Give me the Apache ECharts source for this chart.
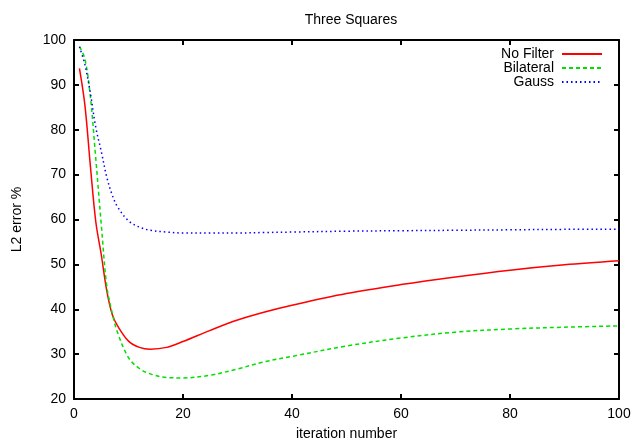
<!DOCTYPE html>
<html>
<head>
<meta charset="utf-8">
<script src="https://cdn.jsdelivr.net/npm/echarts@6/dist/echarts.min.js"></script>
<style>
html,body{margin:0;padding:0;background:#fff;}
#chart{width:635px;height:446px;}
</style>
</head>
<body>
<div id="chart"></div>
<script>
var iters = [1, 2, 3, 4, 5, 6, 7, 8, 10, 12, 14, 17, 20, 25, 30, 35, 40, 50, 60, 70, 80, 90, 100];
// L2 error % per filter
var noFilter  = [93.7, 85.5, 72.0, 59.5, 52.2, 44.2, 38.9, 36.3, 32.9, 31.5, 31.1, 31.5, 32.8, 35.3, 37.6, 39.4, 40.9, 43.5, 45.5, 47.2, 48.7, 49.9, 50.8];
var bilateral = [98.5, 95.8, 87.4, 73.5, 59.0, 45.3, 39.2, 34.8, 29.2, 26.8, 25.6, 24.8, 24.7, 25.3, 26.7, 28.3, 29.5, 31.8, 33.6, 34.9, 35.6, 36.0, 36.3];
var gauss     = [98.5, 94.5, 88.2, 80.5, 75.2, 69.5, 65.5, 62.8, 59.7, 58.3, 57.6, 57.2, 57.0, 57.0, 57.0, 57.1, 57.2, 57.4, 57.5, 57.6, 57.7, 57.8, 57.8];
var seriesNames = ['No Filter', 'Bilateral', 'Gauss'];

function pairs(arr) {
	return iters.map(function(x, i) { return [x, arr[i]]; });
}

var font = 'Liberation Sans, Arial, sans-serif';
//坐标轴公共样式
function axisBase(pos, isX, showLabel) {
	return {
		type: 'value',
		position: pos,
		min: isX ? 0 : 20,
		max: 100,
		interval: isX ? 20 : 10,
		axisLine: { show: true, onZero: false, lineStyle: { color: '#000', width: 2 } },
		axisTick: { show: true, inside: true, length: 5, lineStyle: { color: '#000', width: 2 } },
		splitLine: { show: false },
		axisLabel: { show: showLabel, color: '#000', fontSize: 14, fontFamily: font, margin: 8 }
	};
}

var xBottom = axisBase('bottom', true, true);
xBottom.name = 'iteration number';
xBottom.nameLocation = 'middle';
xBottom.nameGap = 28;
xBottom.nameTextStyle = { color: '#000', fontSize: 14, fontFamily: font };
var xTop = axisBase('top', true, false);

var yLeft = axisBase('left', false, true);
yLeft.name = 'L2 error %';
yLeft.nameLocation = 'middle';
yLeft.nameGap = 50;
yLeft.nameTextStyle = { color: '#000', fontSize: 14, fontFamily: font };
var yRight = axisBase('right', false, false);

function lineSeries(idx, arr, color, dash) {
	return {
		name: seriesNames[idx],
		type: 'line',
		data: pairs(arr),
		symbol: 'none',
		smooth: 0.35,
		lineStyle: { color: color, width: 1.5, type: dash },
		itemStyle: { color: color }
	};
}

var option = {
	animation: false,
	backgroundColor: '#fff',
	title: {
		text: 'Three Squares',
		left: 346,
		textAlign: 'center',
		top: 8,
		textStyle: { color: '#000', fontSize: 14, fontWeight: 'normal', fontFamily: font }
	},
	legend: {
		data: seriesNames,
		orient: 'vertical',
		align: 'right',
		right: 27,
		top: 42,
		itemGap: 0,
		itemWidth: 40,
		itemHeight: 14,
		itemStyle: { opacity: 0 },
		textStyle: { color: '#000', fontSize: 14, fontFamily: font, padding: [0, 3, 0, 0] },
		selectedMode: false
	},
	grid: { left: 74, right: 16, top: 40, bottom: 44, containLabel: false },
	xAxis: [xBottom, xTop],
	yAxis: [yLeft, yRight],
	series: [
		lineSeries(0, noFilter, '#ff0000', 'solid'),
		lineSeries(1, bilateral, '#00e000', [4, 3]),
		lineSeries(2, gauss, '#0000ff', [1.5, 3])
	]
};

var chart = echarts.init(document.getElementById('chart'));
chart.setOption(option);
</script>
</body>
</html>
